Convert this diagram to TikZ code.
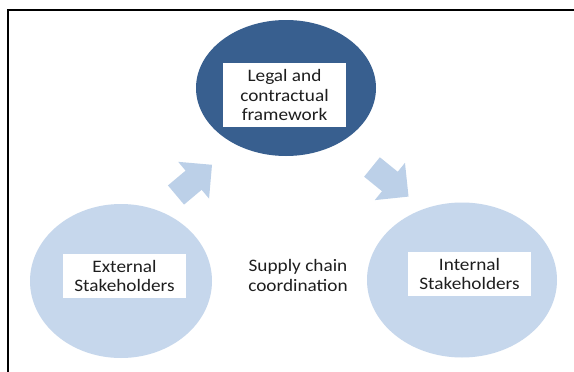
\documentclass[tikz,border=0pt]{standalone}
\usepackage{fontspec}
\setmainfont[FakeStretch=1.1]{Carlito}
\usetikzlibrary{shapes.geometric}
\definecolor{darkblue}{HTML}{385F8F}
\definecolor{lightblue}{HTML}{C6D7EC}
\definecolor{arrowblue}{HTML}{BCD0E8}
\definecolor{textdark}{HTML}{1E1E1E}
\tikzset{
  bubble/.style={ellipse, fill=#1, draw=none, inner sep=0pt},
  label box/.style={rectangle, fill=white, draw=none, inner sep=0pt,
    minimum width=123pt, text=textdark, align=center,
    font=\fontsize{17.5}{19.5}\selectfont},
  plain label/.style={text=textdark, align=center, inner sep=0pt,
    font=\fontsize{17.5}{20}\selectfont},
  frame line/.style={line width=2.8pt, black},
  blockarrow/.pic={
    \fill[arrowblue] (0,-12.5) -- (23,-12.5) -- (23,-24) -- (47,0)
      -- (23,24) -- (23,12.5) -- (0,12.5) -- cycle;
  }
}
\begin{document}
\begin{tikzpicture}[x=1pt, y=-1pt]
  \useasboundingbox (0,0) rectangle (574,372);
  \fill[white] (0,0) rectangle (574,372);
  % open frame: only the top and left sides fall inside the page
  \draw[frame line] (8,372) -- (8,10) -- (574,10);

  % the three circles
  \node[bubble=darkblue, minimum width=180pt, minimum height=136pt] (legal) at (286,88) {};
  \node[bubble=lightblue, minimum width=182pt, minimum height=154pt] (external) at (121,281) {};
  \node[bubble=lightblue, minimum width=190pt, minimum height=155pt] (internal) at (462,280) {};

  % white captions
  \node[label box, minimum height=64pt] (legaltxt) at (284.5,95) {Legal and\\contractual\\framework};
  \node[label box, minimum height=44pt] (exttxt) at (124.5,276) {External\\Stakeholders};
  \node[label box, minimum height=44pt] (inttxt) at (469.5,274) {Internal\\Stakeholders};

  % centre caption
  \node[plain label] (coord) at (298,275) {Supply chain\\coordination};

  % block arrows between the circles
  \pic[rotate=40] at (176,195) {blockarrow};
  \pic[rotate=-39] at (372,167) {blockarrow};
\end{tikzpicture}
\end{document}
